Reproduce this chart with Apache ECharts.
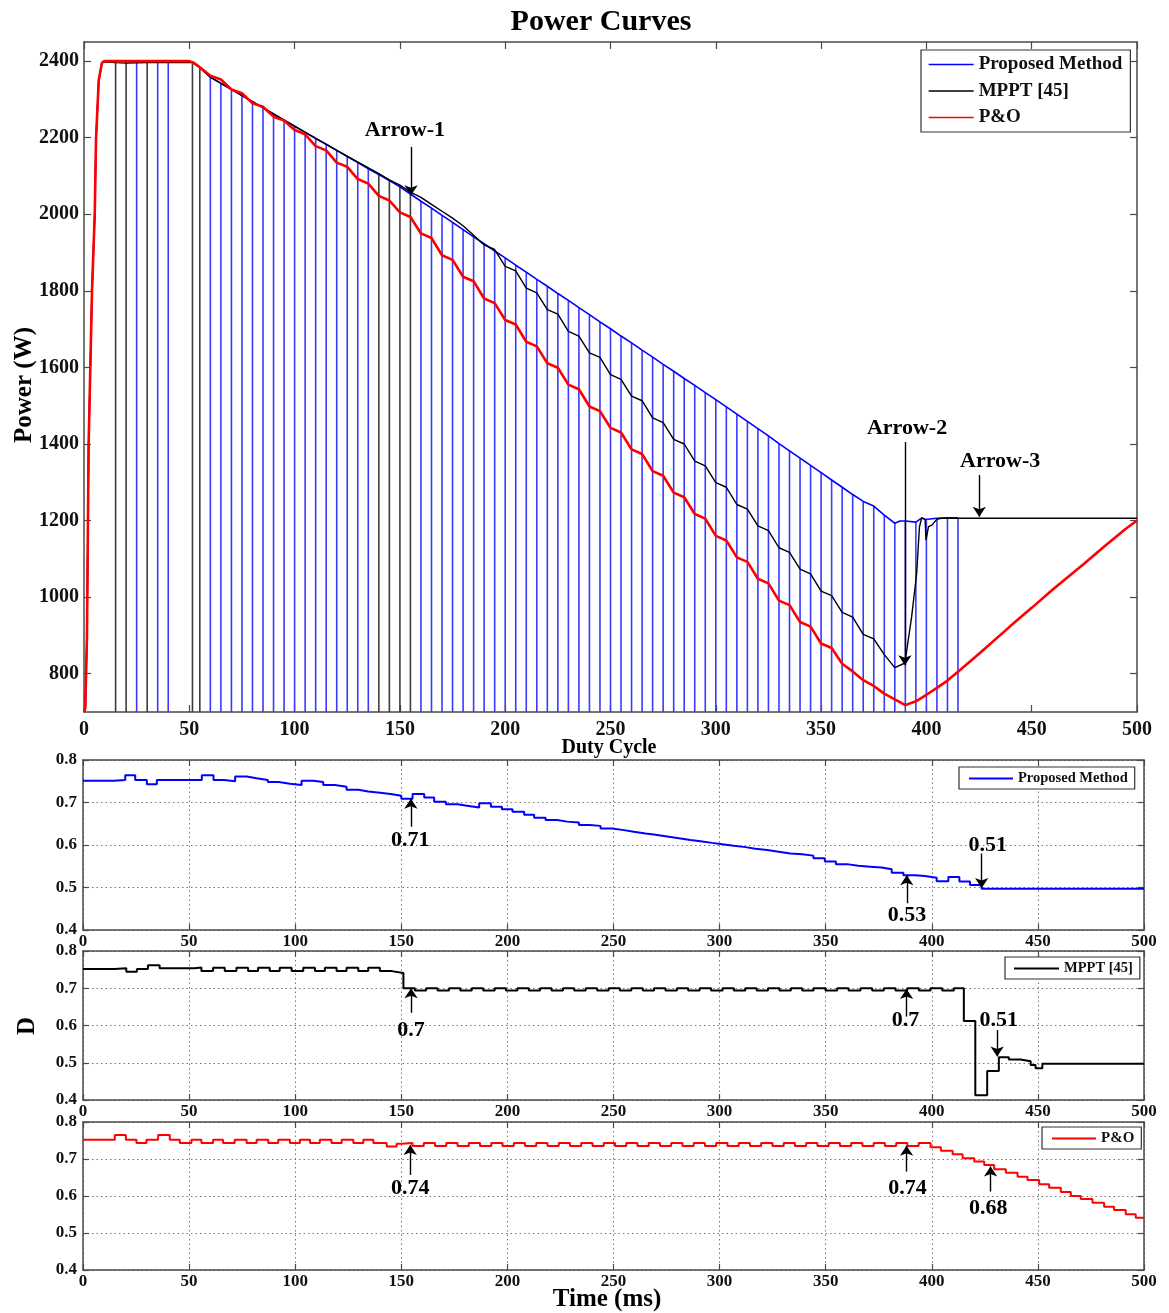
<!DOCTYPE html>
<html><head><meta charset="utf-8">
<script src="https://cdn.jsdelivr.net/npm/echarts@6/dist/echarts.min.js"></script>
<style>html,body{margin:0;padding:0;background:#fff}#c{width:1169px;height:1313px}</style>
</head><body><div id="c"></div>
<script>
// ---------------- DATA ----------------
const powerTicks = [800,1000,1200,1400,1600,1800,2000,2200,2400];
const seriesNames = ['Proposed Method','MPPT [45]','P&O'];

const proposedPower = [[0,700],[0.6,710],[1.4,895],[2.2,1400],[3.8,1800],[5.1,2000],[5.7,2195],[7,2350],[8.5,2395],[9.5,2400],
[25,2400],[35,2400],[40,2400],[50,2400],[52,2396],[55,2383],[60,2358],[65,2342],[70,2326],[75,2310],[80,2294],[85,2278],[90,2262],
[95,2246],[100,2230],[105,2214],[110,2198],[115,2183],[120,2167],[125,2151],[130,2135],[135,2119],[140,2104],[145,2088],[150,2072],
[155,2053],[160,2034],[165,2016],[170,1997],[175,1979],[180,1960],[185,1941],[190,1923],[195,1904],[200,1886],[205,1867],[210,1849],
[215,1830],[220,1812],[225,1793],[230,1775],[235,1756],[240,1738],[245,1719],[250,1701],[255,1682],[260,1664],[265,1645],[270,1627],
[275,1608],[280,1590],[285,1571],[290,1553],[295,1534],[300,1516],[305,1497],[310,1478],[315,1459],[320,1440],[325,1421],[330,1401],
[335,1382],[340,1363],[345,1344],[350,1325],[355,1306],[360,1287],[365,1268],[370,1250],[375,1238],[380,1214],[385,1193],[387.4,1199],
[390,1199],[395,1196],[397.8,1207],[399.4,1203],[400,1203],[405,1206],[410,1207],[415,1207]];

const mpptPower = [[0,700],[0.6,710],[1.4,895],[2.2,1400],[3.8,1800],[5.1,2000],[5.7,2195],[7,2350],[8.5,2395],[9.5,2398],
[15,2396],[20,2395],[30,2396],[51.5,2396],[55,2383],[60,2358],[80,2294],[100,2230],[120,2167],[140,2106],[145,2090],[150,2076],
[155,2058],[160,2044],[165,2026],[170,2008],[175,1990],[180,1970],[185,1945],[190,1920],[195,1908],[200,1864],[205,1852],[210,1807],
[215,1795],[220,1751],[225,1739],[230,1694],[235,1682],[240,1638],[245,1626],[250,1581],[255,1569],[260,1525],[265,1513],[270,1468],
[275,1456],[280,1412],[285,1400],[290,1355],[295,1343],[300,1299],[305,1287],[310,1242],[315,1230],[320,1186],[325,1174],[330,1129],
[335,1117],[340,1073],[345,1061],[350,1016],[355,1004],[360,960],[365,948],[370,903],[375,891],[380,850],[385,816],[389.8,828],
[393,949],[395.4,1063],[396.7,1184],[397.8,1207],[399.4,1203],[399.8,1149],[401,1184],[402.6,1188],[404.9,1203],[407,1206],[500,1206]];

const poPower = [[0,700],[0.6,710],[1.4,895],[2.2,1400],[3.8,1800],[5.1,2000],[5.7,2195],[7,2350],[8.5,2395],[9.5,2400],[50,2400],
[52,2396],[55,2384],[60,2362],[65,2352],[70,2326],[75,2316],[80,2290],[85,2281],[90,2255],[95,2245],[100,2220],[105,2209],[110,2178],
[115,2167],[120,2135],[125,2124],[130,2092],[135,2080],[140,2048],[145,2036],[150,2005],[155,1993],[160,1950],[165,1938],[170,1893],
[175,1881],[180,1837],[185,1825],[190,1780],[195,1768],[200,1724],[205,1712],[210,1667],[215,1655],[220,1611],[225,1599],[230,1555],
[235,1543],[240,1498],[245,1486],[250,1442],[255,1430],[260,1386],[265,1374],[270,1329],[275,1317],[280,1273],[285,1261],[290,1217],
[295,1205],[300,1160],[305,1148],[310,1104],[315,1092],[320,1048],[325,1036],[330,991],[335,979],[340,935],[345,923],[350,879],
[355,867],[360,826],[365,806],[370,783],[375,768],[380,748],[385,733],[390,718],[395,728],[400,745],[405,763],[410,782],[415,805],
[425,852],[440,925],[450,972],[460,1020],[475,1088],[485,1135],[495,1180],[500,1200]];

// stem positions (ms) where power samples drop
const proposedStemX = [25,35,40,60,65,70,75,80,85,90,95,100,105,110,115,120,125,130,135,160,165,170,175,180,185,190,195,200,205,210,215,220,225,230,235,240,245,250,255,260,265,270,275,280,285,290,295,300,305,310,315,320,325,330,335,340,345,350,355,360,365,370,375,380,385,390,395,400,405,410,415];
const mpptStemX = [15,20,30,51.5,55,140,145,150,155];

// duty cycles: [start time, value held until next start]
const dProposed = [[0,0.751],[14.4,0.753],[19.9,0.764],[24.6,0.753],[30.1,0.743],[34.8,0.753],[56,0.764],[61.5,0.753],[66.5,0.750],
[71.7,0.761],[77.1,0.757],[81.8,0.753],[87.1,0.748],[92.3,0.744],[97.5,0.741],[103,0.751],[108.5,0.748],[113.2,0.741],[118.7,0.737],
[124.2,0.730],[129.7,0.726],[134.4,0.723],[140,0.720],[145,0.716],[150,0.709],[155.3,0.720],[160.8,0.712],[165.5,0.702],[171,0.696],
[176.5,0.692],[181.7,0.688],[186.7,0.698],[192.2,0.690],[197.4,0.684],[202.4,0.678],[207.9,0.671],[212.6,0.664],[218,0.659],
[223.5,0.655],[228.2,0.653],[233.7,0.647],[238.7,0.645],[243.9,0.639],[249.4,0.635],[254.9,0.631],[259.6,0.627],[265.1,0.624],
[269.8,0.620],[275.3,0.616],[280.8,0.612],[286.3,0.609],[291,0.605],[296.5,0.602],[301.2,0.598],[306.7,0.595],[312.2,0.591],
[316.9,0.588],[322.4,0.584],[327.9,0.580],[333.4,0.578],[338.9,0.575],[344.2,0.569],[349.6,0.561],[354.8,0.555],[359.9,0.551],
[365.4,0.549],[370.9,0.547],[376.4,0.543],[381.1,0.535],[386.6,0.529],[392.1,0.527],[396.8,0.523],[402.3,0.515],[407.8,0.525],
[413,0.514],[418,0.506],[423.5,0.497],[500,0.497]];

const dMppt = [[0,0.752],[14.9,0.754],[20.4,0.744],[25.4,0.752],[30.6,0.762],[36.1,0.754],[52.6,0.756],[55.8,0.746],[61.3,0.755],
[66.8,0.746],[72.3,0.755],[77.8,0.746],[82.5,0.755],[88,0.746],[92.7,0.755],[98.3,0.746],[103.8,0.755],[109.3,0.746],[114,0.755],
[119.5,0.746],[124.2,0.755],[129.7,0.746],[134.4,0.755],[139.9,0.746],[145.5,0.741],[151,0.700],[156.4,0.694],[161.7,0.700],
[167.1,0.694],[172.5,0.700],[177.8,0.694],[183.2,0.700],[188.6,0.694],[194,0.700],[199.3,0.694],[204.7,0.700],[210.1,0.694],
[215.4,0.700],[220.8,0.694],[226.2,0.700],[231.5,0.694],[236.9,0.700],[242.3,0.694],[247.7,0.700],[253,0.694],[258.4,0.700],
[263.8,0.694],[269.1,0.700],[274.5,0.694],[279.9,0.700],[285.2,0.694],[290.6,0.700],[296,0.694],[301.4,0.700],[306.7,0.694],
[312.1,0.700],[317.5,0.694],[322.8,0.700],[328.2,0.694],[333.6,0.700],[338.9,0.694],[344.3,0.700],[349.9,0.694],[355.4,0.700],
[360.8,0.694],[366.4,0.700],[371.9,0.694],[377.4,0.700],[382.9,0.694],[388.4,0.700],[393.9,0.694],[399.4,0.700],[404.9,0.694],
[410.4,0.700],[415.1,0.612],[420.5,0.413],[426.1,0.478],[431.6,0.515],[436.3,0.509],[441.8,0.504],[446.6,0.494],[448.9,0.485],
[452.1,0.497],[500,0.497]];

const dPO = [[0,0.752],[15,0.765],[20.2,0.752],[25.2,0.743],[29.9,0.752],[35.4,0.765],[40.9,0.752],[45.6,0.743],[51.1,0.752],
[55.8,0.743],[61.3,0.752],[66,0.743],[71.5,0.752],[77.1,0.743],[81.8,0.752],[87.3,0.743],[92,0.752],[97.5,0.743],[102.2,0.752],
[107,0.743],[111.6,0.752],[117.1,0.743],[121.9,0.752],[127.4,0.743],[132.1,0.752],[136.8,0.743],[143.1,0.734],[147.8,0.741],
[150,0.743],[155.3,0.735],[160.6,0.743],[165.9,0.735],[171.2,0.743],[176.5,0.735],[181.8,0.743],[187.1,0.735],[192.4,0.743],
[197.7,0.735],[203,0.743],[208.3,0.735],[213.6,0.743],[218.9,0.735],[224.2,0.743],[229.5,0.735],[234.8,0.743],[240.1,0.735],
[245.4,0.743],[250.7,0.735],[256,0.743],[261.3,0.735],[266.6,0.743],[271.9,0.735],[277.2,0.743],[282.5,0.735],[287.8,0.743],
[293.1,0.735],[298.4,0.743],[303.7,0.735],[309,0.743],[314.3,0.735],[319.6,0.743],[324.9,0.735],[330.2,0.743],[335.5,0.735],
[340.8,0.743],[346.1,0.735],[351.4,0.743],[356.7,0.735],[362,0.743],[367.3,0.735],[372.6,0.743],[377.9,0.735],[383.2,0.743],
[388.5,0.735],[393.8,0.743],[399.4,0.732],[404.3,0.722],[409.8,0.713],[414.5,0.702],[420,0.693],[424.7,0.684],[429.4,0.672],
[434.9,0.663],[440.4,0.652],[445.1,0.643],[450.6,0.632],[455.3,0.622],[460.8,0.611],[465.5,0.600],[470.2,0.592],[475.7,0.582],
[481.2,0.571],[485.9,0.562],[491.4,0.551],[496.1,0.541],[500,0.541]];

// annotations: [label, time, value]; arrows: [t0, v0, t1, v1]
const powerNotes = [['Arrow-1',152.4,2220],['Arrow-2',390.8,1442],['Arrow-3',435,1356]];
const powerArrows = [[155.3,2176,155.3,2050],[389.8,1405,389.8,822],[425.1,1319,425.1,1210]];
const d1Notes = [['0.71',154.2,0.612],['0.53',388.3,0.435],['0.51',426.4,0.600]];
const d1Arrows = [[154.5,0.643,154.5,0.709],[388.2,0.463,388.2,0.529],[423.5,0.580,423.5,0.499]];
const d2Notes = [['0.7',154.6,0.588],['0.7',387.6,0.615],['0.51',431.5,0.615]];
const d2Arrows = [[154.6,0.634,154.6,0.700],[388.1,0.624,388.1,0.698],[430.8,0.588,430.8,0.517]];
const d3Notes = [['0.74',154.2,0.622],['0.74',388.5,0.622],['0.68',426.6,0.568]];
const d3Arrows = [[154.2,0.657,154.2,0.738],[388.1,0.666,388.1,0.736],[427.7,0.612,427.7,0.680]];

// ---------------- CHART ----------------
const SERIF = '"Liberation Serif", "Times New Roman", serif';
const FRAME = '#4a4a4a';
const chart = echarts.init(document.getElementById('c'), null, {renderer:'canvas'});

function lookup(arr, x){ const p = arr.find(d => d[0] === x); return p ? p[1] : null; }

function frameAxisX(gi, pos, labels, split, fs, margin, len){
  return {type:'value', gridIndex:gi, position:pos, min:0, max:500, interval:50,
    axisLine:{show:true, onZero:false, lineStyle:{color:FRAME, width:1.5}},
    axisTick:{show:true, inside:true, length:len, lineStyle:{color:FRAME, width:1.2}},
    axisLabel:{show:labels, margin:margin, fontFamily:SERIF, fontWeight:'bold', fontSize:fs, color:'#111'},
    splitLine:{show:split, lineStyle:{type:[1.5,3], color:'#777', width:1}}};
}
function dAxisY(gi, pos, labels){
  return {type:'value', gridIndex:gi, position:pos, min:0.4, max:0.8, interval:0.1,
    axisLine:{show:true, onZero:false, lineStyle:{color:FRAME, width:1.5}},
    axisTick:{show:true, inside:true, length:6, lineStyle:{color:FRAME, width:1.2}},
    axisLabel:{show:labels, margin:6, fontFamily:SERIF, fontWeight:'bold', fontSize:17, color:'#111',
      formatter: v => v.toFixed(1)},
    splitLine:{show:labels, lineStyle:{type:[1.5,3], color:'#777', width:1}}};
}
function notesMP(notes, fs){
  return {symbol:'rect', symbolSize:1, itemStyle:{color:'rgba(0,0,0,0)'}, silent:true,
    label:{show:true, position:'inside', formatter:'{b}', fontFamily:SERIF, fontWeight:'bold', fontSize:fs, color:'#000'},
    data: notes.map(n => ({name:n[0], coord:[n[1], n[2]]}))};
}
function arrowsML(arrows){
  return {symbol:['none','arrow'], symbolSize:10, silent:true, animation:false,
    lineStyle:{color:'#000', width:1.4, type:'solid'}, label:{show:false}, emphasis:{disabled:true},
    data: arrows.map(a => [{coord:[a[0],a[1]]},{coord:[a[2],a[3]]}])};
}
function legendBox(left, top, names, fs, pad, w){
  return {show:true, orient:'vertical', left:left, top:top, data:names, itemWidth:w, itemHeight:12,
    itemGap:7.5, padding:pad, borderColor:'#333', borderWidth:1.2, backgroundColor:'#fff', selectedMode:false,
    lineStyle:{width:fs > 16 ? 1.3 : 2}, itemStyle:{opacity:0},
    textStyle:{fontFamily:SERIF, fontWeight:'bold', fontSize:fs, color:'#111', lineHeight:fs}};
}

const option = {
  animation:false,
  backgroundColor:'#fff',
  grid:[
    {left:84, top:42, width:1053, height:670},
    {left:83, top:760, width:1061, height:170},
    {left:83, top:951, width:1061, height:149},
    {left:83, top:1122, width:1061, height:148}
  ],
  xAxis:[
    frameAxisX(0,'bottom',true,false,20,8,7),
    frameAxisX(0,'top',false,false,20,8,7),
    frameAxisX(1,'bottom',true,true,17,3,6),
    frameAxisX(1,'top',false,false,17,3,6),
    frameAxisX(2,'bottom',true,true,17,3,6),
    frameAxisX(2,'top',false,false,17,3,6),
    frameAxisX(3,'bottom',true,true,17,3,6),
    frameAxisX(3,'top',false,false,17,3,6)
  ],
  yAxis:[
    {type:'value', gridIndex:0, position:'left', min:700, max:2450,
      axisLine:{show:true, onZero:false, lineStyle:{color:FRAME, width:1.5}},
      axisTick:{show:true, inside:true, length:7, customValues:powerTicks, lineStyle:{color:FRAME, width:1.2}},
      axisLabel:{show:true, customValues:powerTicks, margin:5, fontFamily:SERIF, fontWeight:'bold', fontSize:20, color:'#111',
        formatter: v => String(v)},
      splitLine:{show:false}},
    {type:'value', gridIndex:0, position:'right', min:700, max:2450,
      axisLine:{show:true, onZero:false, lineStyle:{color:FRAME, width:1.5}},
      axisTick:{show:true, inside:true, length:7, customValues:powerTicks, lineStyle:{color:FRAME, width:1.2}},
      axisLabel:{show:false}, splitLine:{show:false}},
    dAxisY(1,'left',true), dAxisY(1,'right',false),
    dAxisY(2,'left',true), dAxisY(2,'right',false),
    dAxisY(3,'left',true), dAxisY(3,'right',false)
  ],
  legend:[
    legendBox(921, 50, seriesNames, 19, [5,8,5,7], 45),
    legendBox(959, 767, ['Proposed Method'], 14.5, [4,7,3,9], 44),
    legendBox(1005, 957, ['MPPT [45]'], 14.5, [4,7,3,8], 45),
    legendBox(1042, 1127, ['P&O'], 15, [4,7,3,9], 44)
  ],
  series:[
    {type:'bar', name:'stemsProposed', xAxisIndex:0, yAxisIndex:0, barWidth:1.6, barGap:'-100%', z:1,
      itemStyle:{color:'#3a3aff'}, silent:true,
      data: proposedStemX.map(x => [x, lookup(proposedPower, x)])},
    {type:'bar', name:'stemsMppt', xAxisIndex:0, yAxisIndex:0, barWidth:1.6, barGap:'-100%', z:1,
      itemStyle:{color:'#3d3d3d'}, silent:true,
      data: mpptStemX.map(x => [x, lookup(mpptPower, x)])},
    {type:'line', name:'Proposed Method', xAxisIndex:0, yAxisIndex:0, data:proposedPower, symbol:'none', z:3,
      lineStyle:{color:'#0000ff', width:1.6}, itemStyle:{color:'#0000ff'}},
    {type:'line', name:'MPPT [45]', xAxisIndex:0, yAxisIndex:0, data:mpptPower, symbol:'none', z:4,
      lineStyle:{color:'#000', width:1.4}, itemStyle:{color:'#000'}},
    {type:'line', name:'P&O', xAxisIndex:0, yAxisIndex:0, data:poPower, symbol:'none', z:5,
      lineStyle:{color:'#ff0000', width:2.6}, itemStyle:{color:'#ff0000'},
      markPoint: notesMP(powerNotes, 22), markLine: arrowsML(powerArrows)},
    {type:'line', name:'Proposed Method', xAxisIndex:2, yAxisIndex:2, data:dProposed, step:'end', symbol:'none',
      lineStyle:{color:'#0000ff', width:2}, itemStyle:{color:'#0000ff'},
      markPoint: notesMP(d1Notes, 22), markLine: arrowsML(d1Arrows)},
    {type:'line', name:'MPPT [45]', xAxisIndex:4, yAxisIndex:4, data:dMppt, step:'end', symbol:'none',
      lineStyle:{color:'#000', width:2}, itemStyle:{color:'#000'},
      markPoint: notesMP(d2Notes, 22), markLine: arrowsML(d2Arrows)},
    {type:'line', name:'P&O', xAxisIndex:6, yAxisIndex:6, data:dPO, step:'end', symbol:'none',
      lineStyle:{color:'#ff0000', width:2}, itemStyle:{color:'#ff0000'},
      markPoint: notesMP(d3Notes, 22), markLine: arrowsML(d3Arrows)}
  ],
  graphic:[
    {type:'text', x:601, y:22, style:{text:'Power Curves', font:'bold 30px ' + SERIF, fill:'#000', textAlign:'center', textVerticalAlign:'middle'}},
    {type:'text', x:25, y:385, rotation:Math.PI/2, style:{text:'Power (W)', font:'bold 25px ' + SERIF, fill:'#000', textAlign:'center', textVerticalAlign:'middle'}},
    {type:'text', x:609, y:748, style:{text:'Duty Cycle', font:'bold 20px ' + SERIF, fill:'#000', textAlign:'center', textVerticalAlign:'middle'}},
    {type:'text', x:28, y:1026, rotation:Math.PI/2, style:{text:'D', font:'bold 25px ' + SERIF, fill:'#000', textAlign:'center', textVerticalAlign:'middle'}},
    {type:'text', x:607, y:1300, style:{text:'Time (ms)', font:'bold 25px ' + SERIF, fill:'#000', textAlign:'center', textVerticalAlign:'middle'}}
  ]
};
chart.setOption(option);
</script>
</body></html>
